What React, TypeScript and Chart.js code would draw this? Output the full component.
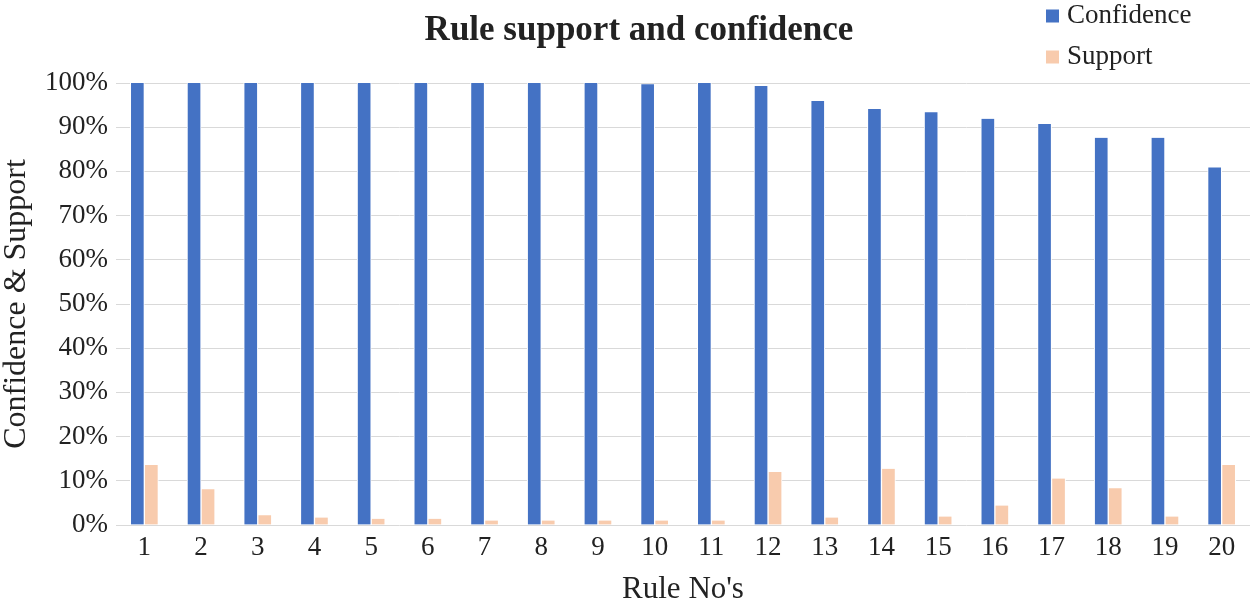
import React, { useEffect, useRef } from "react";
import { Chart, registerables } from "chart.js";

Chart.register(...registerables);

const ruleNos = ["1","2","3","4","5","6","7","8","9","10","11","12","13","14","15","16","17","18","19","20"];
const confidence = [100, 100, 100, 100, 100, 100, 100, 100, 100, 99.7, 100, 99.3, 95.9, 94.1, 93.4, 91.9, 90.7, 87.6, 87.6, 80.9];
const support = [13.6, 8.1, 2.2, 1.7, 1.4, 1.4, 1.0, 1.0, 1.0, 1.0, 1.0, 12.0, 1.7, 12.7, 1.9, 4.4, 10.5, 8.3, 1.9, 13.6];
const yTicks = [0, 10, 20, 30, 40, 50, 60, 70, 80, 90, 100];

const TITLE = "Rule support and confidence";
const FONT = "'Liberation Serif', 'Times New Roman', serif";
const TEXT = "#222222";
const BLUE = "#4472C4";
const PEACH = "#F8CBAD";

const decorPlugin = {
  id: "decor",
  afterDraw(chart: any) {
    const ctx = chart.ctx;
    ctx.save();
    ctx.fillStyle = TEXT;
    ctx.font = `bold 35px ${FONT}`;
    ctx.textAlign = "center";
    ctx.textBaseline = "middle";
    ctx.fillText(TITLE, 639, 31);
    const items = chart.data.datasets;
    const ys = [16, 57];
    items.forEach((ds: any, i: number) => {
      const y = ys[i];
      ctx.fillStyle = ds.backgroundColor;
      ctx.fillRect(1046, y - 6.5, 13, 13);
      ctx.fillStyle = TEXT;
      ctx.font = `27px ${FONT}`;
      ctx.textAlign = "left";
      ctx.textBaseline = "middle";
      ctx.fillText(ds.label, 1067, y);
    });
    ctx.restore();
  },
};

export default function App() {
  const ref = useRef<HTMLCanvasElement>(null);
  useEffect(() => {
    document.body.style.margin = "0";
    const chart = new Chart(ref.current as HTMLCanvasElement, {
      type: "bar",
      data: {
        labels: ruleNos,
        datasets: [
          {
            label: "Confidence",
            data: confidence,
            backgroundColor: BLUE,
            borderColor: "#ffffff",
            borderWidth: { left: 1, right: 1, top: 0, bottom: 0 },
            barThickness: 14,
          },
          {
            label: "Support",
            data: support,
            backgroundColor: PEACH,
            borderColor: "#ffffff",
            borderWidth: { left: 1, right: 1, top: 0, bottom: 0 },
            barThickness: 14,
          },
        ],
      },
      options: {
        responsive: false,
        animation: false,
        devicePixelRatio: 1,
        layout: { padding: { left: 0, top: 83, right: 5, bottom: 0 } },
        plugins: {
          legend: { display: false },
          title: { display: false },
          tooltip: { enabled: false },
        },
        scales: {
          x: {
            grid: { display: false, drawTicks: false },
            border: { display: false },
            ticks: { color: TEXT, font: { family: FONT, size: 27 }, padding: 7 },
            title: {
              display: true,
              text: "Rule No's",
              color: TEXT,
              font: { family: FONT, size: 31, lineHeight: 1 },
              padding: { top: 0, bottom: 0 },
            },
            afterFit(scale: any) {
              scale.height = 80;
            },
          },
          y: {
            min: 0,
            max: 100,
            afterBuildTicks(scale: any) {
              scale.ticks = yTicks.map((v) => ({ value: v }));
            },
            grid: { color: "#D9D9D9", lineWidth: 1, drawTicks: false },
            border: { display: false },
            ticks: {
              color: TEXT,
              font: { family: FONT, size: 27 },
              padding: 8,
              callback: (v: any) => v + "%",
            },
            title: {
              display: true,
              text: "Confidence & Support",
              color: TEXT,
              font: { family: FONT, size: 32, lineHeight: 1 },
              padding: { top: 1, bottom: 0 },
            },
            afterFit(scale: any) {
              scale.width = 116;
            },
          },
        },
      },
      plugins: [decorPlugin],
    });
    return () => chart.destroy();
  }, []);
  return (
    <div style={{ position: "fixed", left: 0, top: 0, width: 1255, height: 605, background: "#fff" }}>
      <canvas ref={ref} width={1255} height={605} style={{ display: "block" }} />
    </div>
  );
}
